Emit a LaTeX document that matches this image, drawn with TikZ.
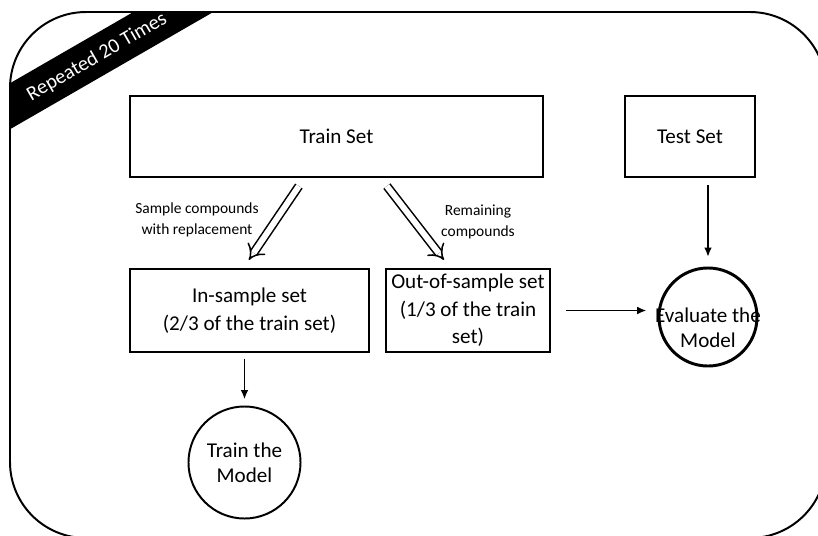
\documentclass[tikz,border=0pt]{standalone}
\usepackage{fontspec}
\setmainfont{Carlito}
\usetikzlibrary{arrows.meta,calc}

\begin{document}
\begin{tikzpicture}[x=0.025cm, y=-0.025cm,
		box/.style={draw, line width=1.4pt, align=center, font=\fontsize{15}{19.5}\selectfont},
		bubble/.style={draw, circle, line width=1.4pt, align=center, font=\fontsize{15}{18}\selectfont},
		flow/.style={line width=1pt, -{Latex[length=6.5pt,width=5.5pt]}},
		hollow/.style={double, double distance=4.2pt, line width=1.1pt, -{Implies[scale=1.4]}},
		note/.style={align=center, font=\fontsize{11}{15}\selectfont}]
		%%%%% FRAME %%%%%
		\useasboundingbox (0,0) rectangle (818,535);
		\clip (0,0) rectangle (818,535);
		\begin{scope}
			\clip[rounded corners=1.9cm] (10,12) rectangle (826,538);
			\fill[black] (0,89) -- (168,-8) -- (248,-8) -- (0,135) -- cycle;
		\end{scope}
		\draw[line width=1.4pt, rounded corners=1.9cm] (10,12) rectangle (826,538);
		\node[rotate=30, text=white, font=\fontsize{14.5}{17}\selectfont] (banner) at (97,57) {Repeated 20 Times};
		
		%%%%% SETS %%%%%
		\node[box, minimum width=10.33cm, minimum height=2.03cm] (train) at (336.5,136.5) {Train Set};
		\node[box, minimum width=3.25cm, minimum height=2.03cm] (test) at (690,136.5) {Test Set};
		\node[box, minimum width=5.98cm, minimum height=2.08cm] (insample) at (249.5,310.5) {In-sample set\\(2/3 of the train set)};
		\node[box, minimum width=4.1cm, minimum height=2.08cm] (outsample) at (468,310.5) {Out-of-sample set\\(1/3 of the train\\set)};
		
		%%%%% MODELS %%%%%
		\node[bubble, minimum size=2.8cm] (fit) at (244.5,462.5) {Train the\\Model};
		\node[bubble, line width=2.1pt, minimum size=2.45cm] (eval) at (708,317) {};
		\node[align=center, inner sep=0pt, font=\fontsize{15}{18}\selectfont] (evaltext) at ($(eval)+(0,11)$) {Evaluate the\\Model};
		
		%%%%% ARROWS %%%%%
		\draw[hollow] ($(train.south west)+(170,8)$) -- ($(insample.north west)+(120,-8)$);
		\draw[hollow] ($(train.south west)+(258,8)$) -- ($(outsample.north west)+(59,-8)$);
		\node[note] (drawn) at (197,220) {Sample compounds\\with replacement};
		\node[note] (rest) at (478,222) {Remaining\\compounds};
		
		\draw[flow, shorten <=4pt, shorten >=4.5pt] (insample.south -| fit) -- (fit.north);
		\draw[flow, shorten <=5pt, shorten >=7pt] (test.south -| eval) -- (eval.north);
		\draw[flow, shorten <=11pt, shorten >=8pt] (outsample.east) -- (outsample.east -| eval.west);
	\end{tikzpicture}
\end{document}
